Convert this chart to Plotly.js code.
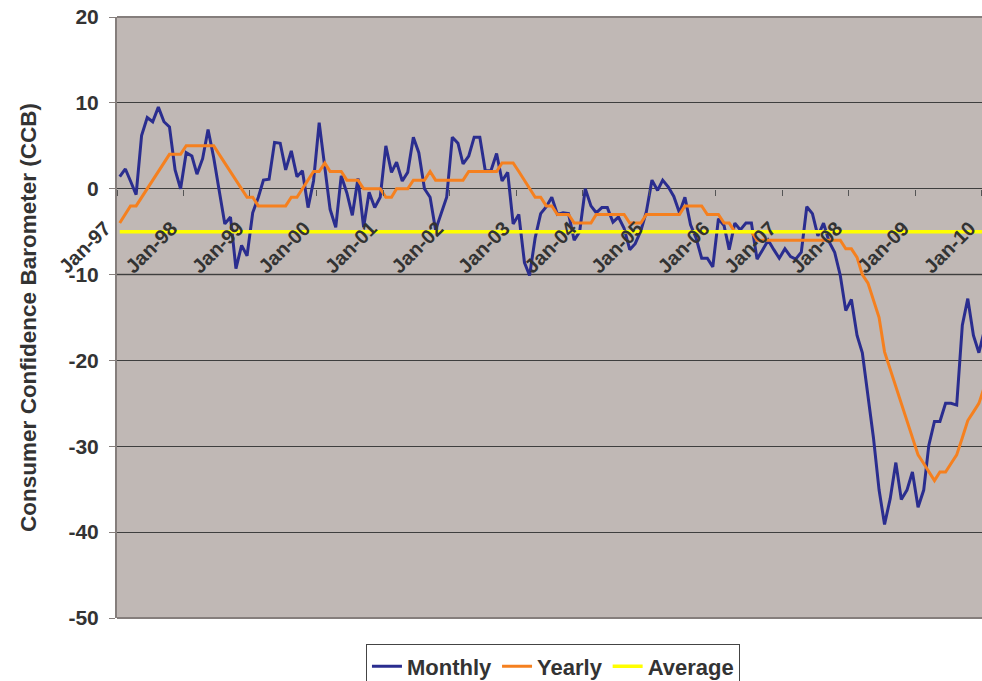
<!DOCTYPE html>
<html>
<head>
<meta charset="utf-8">
<script src="https://cdn.plot.ly/plotly-3.0.1.min.js"></script>
<style>html,body{margin:0;padding:0;background:#fff;}#chart{width:982px;height:681px;}</style>
</head>
<body>
<div id="chart"></div>
<script>
// Monthly series starts Jan-1997, one value per month
const startYear = 1997;
const startMonth = 1;

const monthly = [
  1.4, 2.3, 0.9, -0.7, 6.2, 8.3, 7.8, 9.5, 7.8, 7.2,
  2.2, 0.0, 4.2, 3.8, 1.7, 3.5, 6.9, 3.6, -0.2, -4.1,
  -3.3, -9.3, -6.6, -7.8, -2.8, -1.0, 1.0, 1.1, 5.4, 5.3,
  2.2, 4.4, 1.4, 2.1, -2.2, 0.9, 7.7, 2.1, -2.4, -4.5,
  1.5, -0.5, -3.1, 1.2, -4.5, -0.4, -2.2, -1.0, 5.0, 1.9,
  3.1, 0.9, 1.9, 6.0, 4.2, 0.0, -1.0, -4.8, -2.9, -1.0,
  6.0, 5.3, 2.9, 3.8, 6.0, 6.0, 2.1, 2.1, 4.1, 0.9,
  1.9, -4.1, -3.0, -8.6, -10.1, -5.7, -2.9, -2.1, -1.0, -3.0,
  -2.8, -2.9, -6.0, -5.0, 0.0, -2.0, -2.8, -2.2, -2.2, -3.9,
  -3.3, -4.6, -7.1, -6.4, -4.9, -2.7, 1.0, -0.2, 1.0, 0.2,
  -0.9, -2.8, -1.0, -4.2, -5.8, -8.1, -8.1, -9.1, -3.5, -4.3,
  -7.1, -4.0, -4.8, -4.0, -4.0, -8.2, -7.1, -6.0, -7.1, -8.1,
  -7.0, -7.9, -8.2, -7.4, -2.1, -2.9, -5.5, -4.0, -6.2, -7.4,
  -10.1, -14.2, -12.9, -17.1, -19.1, -24.3, -29.0, -35.1, -39.1, -36.1,
  -31.9, -36.2, -35.1, -33.0, -37.1, -35.1, -29.9, -27.1, -27.1, -25.0,
  -25.0, -25.2, -15.9, -12.8, -17.1, -19.1, -16.4
];

const yearly = [
  -4, -3, -2, -2, -1, 0, 1, 2, 3, 4,
  4, 4, 5, 5, 5, 5, 5, 5, 4, 3,
  2, 1, 0, -1, -1, -2, -2, -2, -2, -2,
  -2, -1, -1, 0, 1, 2, 2, 3, 2, 2,
  2, 1, 1, 1, 0, 0, 0, 0, -1, -1,
  0, 0, 0, 1, 1, 1, 2, 1, 1, 1,
  1, 1, 1, 2, 2, 2, 2, 2, 2, 3,
  3, 3, 2, 1, 0, -1, -1, -2, -2, -3,
  -3, -3, -4, -4, -4, -4, -3, -3, -3, -3,
  -3, -3, -4, -4, -4, -3, -3, -3, -3, -3,
  -3, -3, -2, -2, -2, -2, -3, -3, -3, -4,
  -4, -5, -5, -5, -5, -6, -6, -6, -6, -6,
  -6, -6, -6, -6, -6, -6, -6, -6, -6, -6,
  -6, -7, -7, -8, -10, -11, -13, -15, -19, -21,
  -23, -25, -27, -29, -31, -32, -33, -34, -33, -33,
  -32, -31, -29, -27, -26, -25, -23
];

const averageLevel = -5.0;

const seriesNames = ["Monthly", "Yearly", "Average"];
const seriesColors = ["#2a2d8f", "#f5801f", "#ffff00"];

const yMin = -50, yMax = 20, yStep = 10;
const yTickVals = [20, 10, 0, -10, -20, -30, -40, -50];
const yTickText = yTickVals.map(v => String(v));
const xStart = "1997-01-01", xEnd = "2010-01-02";

// month dates (centre of each month category)
const months = monthly.map((_, i) => {
  const m0 = startMonth - 1 + i;
  const y = startYear + Math.floor(m0 / 12);
  const m = (m0 % 12) + 1;
  return y + "-" + String(m).padStart(2, "0") + "-16";
});
const average = months.map(() => averageLevel);

const fontFam = "Arial, 'Liberation Sans', sans-serif";
const txt = "#333333";

const traces = [
  {x: months, y: monthly, name: seriesNames[0], type: "scatter", mode: "lines",
   line: {color: seriesColors[0], width: 3}},
  {x: months, y: yearly, name: seriesNames[1], type: "scatter", mode: "lines",
   line: {color: seriesColors[1], width: 3}},
  {x: months, y: average, name: seriesNames[2], type: "scatter", mode: "lines",
   line: {color: seriesColors[2], width: 3.5}}
];

const borderCol = "#857e7c";

const layout = {
  width: 982, height: 681,
  margin: {l: 117, r: 0, t: 17, b: 63, pad: 0, autoexpand: false},
  paper_bgcolor: "#ffffff",
  plot_bgcolor: "#c0b8b5",
  showlegend: true,
  legend: {
    orientation: "h", x: 0.504, xanchor: "center", y: -0.044, yanchor: "top",
    bordercolor: "#444444", borderwidth: 1, bgcolor: "#ffffff",
    font: {family: fontFam, size: 22, color: txt, weight: "bold"},
    itemwidth: 30, tracegroupgap: 0
  },
  xaxis: {
    type: "date", range: [xStart, xEnd],
    anchor: "free", position: (0 - yMin) / (yMax - yMin),
    showgrid: false, zeroline: false, showline: false,
    ticks: "outside", ticklen: 6, tickcolor: "#555555", tickwidth: 1,
    dtick: "M12", tick0: xStart, tickformat: "%b-%y", tickangle: -45,
    ticklabelstandoff: 13, ticklabelshift: -12, ticklabeloverflow: "allow",
    tickfont: {family: fontFam, size: 20, color: txt, weight: "bold"}
  },
  yaxis: {
    range: [yMin, yMax], tickmode: "array", tickvals: yTickVals, ticktext: yTickText,
    showgrid: true, gridcolor: "#3e3e3e", gridwidth: 1,
    zeroline: false,
    showline: true, linecolor: borderCol, linewidth: 2,
    ticks: "outside", ticklen: 6, tickcolor: borderCol, tickwidth: 1,
    ticklabelstandoff: 6,
    tickfont: {family: fontFam, size: 21, color: txt, weight: "bold"},
    title: {text: "Consumer Confidence Barometer (CCB)", standoff: 26,
            font: {family: fontFam, size: 22.5, color: txt, weight: "bold"}}
  },
  shapes: [
    {type: "line", xref: "paper", yref: "paper", x0: 0, x1: 1, y0: 1, y1: 1,
     line: {color: borderCol, width: 2}, layer: "above"},
    {type: "line", xref: "paper", yref: "paper", x0: 0, x1: 1, y0: 0, y1: 0,
     line: {color: borderCol, width: 2}, layer: "above"},
    {type: "line", xref: "paper", yref: "y", x0: 0, x1: 1, y0: yMin + 4 * yStep, y1: yMin + 4 * yStep,
     line: {color: "#8a8482", width: 2}, layer: "between"}
  ]
};

Plotly.newPlot("chart", traces, layout, {displayModeBar: false, staticPlot: true});
</script>
</body>
</html>
